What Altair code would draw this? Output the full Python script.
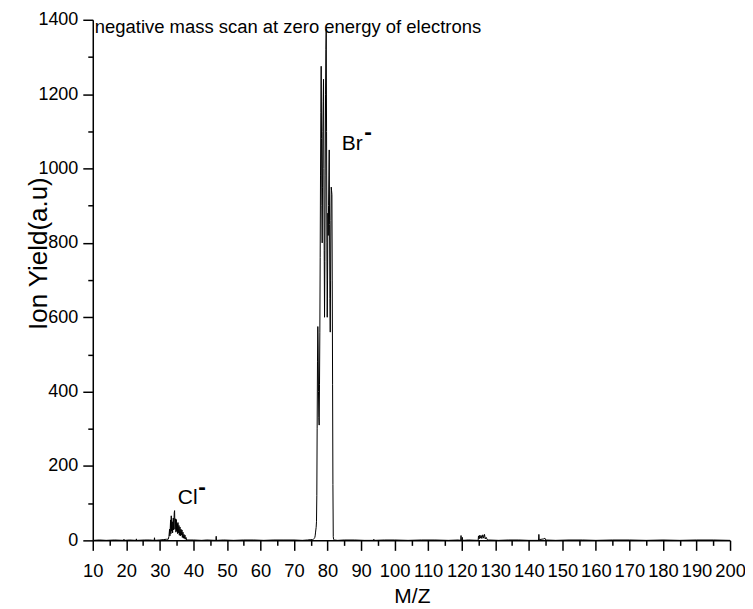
import altair as alt
import pandas as pd

# ---- data (M/Z, ion yield) ----
left_mz = [10.0, 12.0, 14.0, 16.5, 19.2, 19.3, 19.4, 21.0, 22.9, 23.0, 23.1, 25.5, 27.0, 28.3, 28.4, 28.5, 30.0, 31.0, 32.0]
left_y = [0, 1, 0, 1, 0, 3, 0, 1, 0, 4, 0, 1, 1, 0, 7, 0, 1, 2, 3]

cl_mz = [32.5, 32.7, 32.9, 33.0, 33.2, 33.3, 33.4, 33.5, 33.7, 33.8, 34.0, 34.1, 34.3, 34.4, 34.5, 34.7,
         34.8, 34.9, 35.0, 35.2, 35.3, 35.4, 35.5, 35.7, 35.8, 36.0, 36.1, 36.3, 36.4, 36.6, 36.7, 36.9,
         37.0, 37.2, 37.3, 37.5, 37.6, 37.8, 38.0]
cl_y = [3, 10, 30, 12, 55, 18, 66, 25, 50, 20, 60, 28, 75, 80, 30, 58,
        22, 56, 25, 45, 18, 48, 20, 40, 14, 36, 12, 30, 14, 28, 8, 22,
        6, 16, 5, 14, 3, 8, 1]

mid_mz = [40.0, 42.5, 44.0, 46.7, 46.8, 46.9, 49.0, 52.0, 55.0, 58.0, 61.0, 64.0, 67.0, 70.0, 72.5, 74.0, 75.0]
mid_y = [1, 0, 1, 0, 11, 0, 1, 0, 1, 1, 0, 1, 1, 1, 0, 1, 2]

br_mz = [75.5, 75.6, 75.7, 75.8, 75.9, 76.0, 76.1, 76.2, 76.3, 76.4, 76.5, 76.6, 76.7, 76.8, 76.9,
         77.0, 77.1, 77.2, 77.3, 77.4, 77.5, 77.6, 77.7, 77.8, 77.9, 78.0, 78.1, 78.2, 78.3, 78.4,
         78.5, 78.6, 78.7, 78.8, 78.9, 79.0, 79.1, 79.2, 79.3, 79.4, 79.5, 79.6, 79.7, 79.8, 79.9,
         80.0, 80.1, 80.2, 80.3, 80.4, 80.5, 80.6, 80.7, 80.8, 80.9, 81.0, 81.1, 81.2, 81.3, 81.4,
         81.5, 81.6, 81.7, 81.8, 81.9, 82.0]
br_y = [2, 2, 3, 3, 4, 5, 6, 8, 12, 20, 28, 35, 50, 120, 300,
        480, 575, 520, 400, 330, 310, 420, 560, 760, 980, 1150, 1275, 1080, 900, 800,
        950, 1100, 1180, 1240, 1000, 780, 600, 750, 980, 1200, 1320, 1375, 1100, 800, 600,
        700, 880, 820, 900, 980, 1050, 850, 650, 560, 700, 860, 950, 940, 930, 700,
        420, 150, 10, 3, 2, 1]

right_mz = [83.0, 85.0, 88.0, 91.0, 93.7, 93.8, 93.9, 97.0, 100.0, 104.0, 108.0, 112.0, 116.0,
            119.0, 119.7, 119.8, 119.9, 120.1, 120.2, 120.3, 122.0,
            124.9, 125.0, 125.2, 125.4, 125.6, 125.8, 126.0, 126.3, 126.5, 126.8, 127.0, 127.3, 127.6,
            128.0, 131.0, 134.0, 137.0, 140.0, 142.9, 143.0, 143.1, 144.5, 144.8, 145.0,
            148.0, 152.0, 156.0, 160.0, 165.0, 170.0, 175.0, 180.0, 185.0, 190.0, 195.0, 200.0]
right_y = [0, 1, 1, 0, 0, 3, 0, 1, 1, 0, 1, 1, 0,
           1, 0, 13, 0, 0, 8, 0, 1,
           0, 12, 4, 14, 6, 13, 5, 15, 6, 16, 4, 8, 2,
           1, 0, 1, 1, 0, 0, 16, 2, 4, 6, 1,
           0, 1, 1, 0, 1, 1, 0, 1, 0, 1, 1, 0]

spectrum = pd.DataFrame({
    "mz": left_mz + cl_mz + mid_mz + br_mz + right_mz,
    "yield": left_y + cl_y + mid_y + br_y + right_y,
})

x_ticks = list(range(10, 201, 5))
y_ticks = list(range(0, 1401, 100))

FONT = "Liberation Sans"

x_scale = alt.Scale(domain=[10, 200], nice=False, zero=False)
y_scale = alt.Scale(domain=[0, 1400], nice=False)

x_axis = alt.Axis(
    title="M/Z", values=x_ticks, format="d",
    labelExpr="datum.value % 10 == 0 ? datum.label : ''",
    tickSize={"condition": {"test": "datum.value % 10 != 0", "value": 5}, "value": 10},
    labelOverlap=False, labelFlush=False, grid=False,
    domainColor="black", tickColor="black", domainWidth=1.5, tickWidth=1.5,
    labelFont=FONT, labelFontSize=18.4, labelColor="black", labelPadding=11,
    titleFont=FONT, titleFontSize=21, titleFontWeight="normal", titleColor="black",
    titleX=320, titleY=56, titleBaseline="middle",
)
y_axis = alt.Axis(
    title="Ion Yield(a.u)", values=y_ticks, format="d",
    labelExpr="datum.value % 200 == 0 ? datum.label : ''",
    tickSize={"condition": {"test": "datum.value % 200 != 0", "value": 5}, "value": 10},
    labelOverlap=False, labelFlush=False, grid=False,
    domainColor="black", tickColor="black", domainWidth=1.5, tickWidth=1.5,
    labelFont=FONT, labelFontSize=18, labelColor="black", labelPadding=5,
    titleFont=FONT, titleFontSize=26, titleFontWeight="normal", titleColor="black",
    titleX=-54, titleY=234, titleBaseline="middle",
)

line = alt.Chart(spectrum).mark_line(color="black", strokeWidth=1, clip=True).encode(
    x=alt.X("mz:Q", scale=x_scale, axis=x_axis, title="M/Z"),
    y=alt.Y("yield:Q", scale=y_scale, axis=y_axis, title="Ion Yield(a.u)"),
)

# annotations
title_txt = ["negative mass scan at zero energy of electrons"]
title_x = [10.6]
title_y = [1364]

ion_txt = ["Br", "Cl"]
ion_x = [84.25, 35.36]
ion_y = [1050, 97]

minus_txt = ["-", "-"]
minus_x = [92.1, 42.6]
minus_y = [1080, 126]

title_df = pd.DataFrame({"t": title_txt, "x": title_x, "y": title_y})
ion_df = pd.DataFrame({"t": ion_txt, "x": ion_x, "y": ion_y})
minus_df = pd.DataFrame({"t": minus_txt, "x": minus_x, "y": minus_y})

def pos(c):
    return c.encode(
        x=alt.X("x:Q", scale=x_scale, axis=x_axis, title="M/Z"),
        y=alt.Y("y:Q", scale=y_scale, axis=y_axis, title="Ion Yield(a.u)"),
        text="t:N",
    )

title_layer = pos(alt.Chart(title_df).mark_text(
    align="left", baseline="alphabetic", font=FONT, fontSize=18.5, color="black"))

ion_layer = pos(alt.Chart(ion_df).mark_text(
    align="left", baseline="alphabetic", font=FONT, fontSize=21, color="black"))

minus_layer = pos(alt.Chart(minus_df).mark_text(
    align="center", baseline="alphabetic", font=FONT, fontSize=23, fontWeight="bold", color="black"))

chart = alt.layer(line, title_layer, ion_layer, minus_layer).properties(
    width=639, height=522,
    autosize=alt.AutoSizeParams(type="none"),
    padding={"left": 85, "top": 11, "right": 15, "bottom": 66},
    background="white",
).configure_view(stroke=None)

chart.save("out.html", embed_options={"renderer": "svg", "actions": False})
